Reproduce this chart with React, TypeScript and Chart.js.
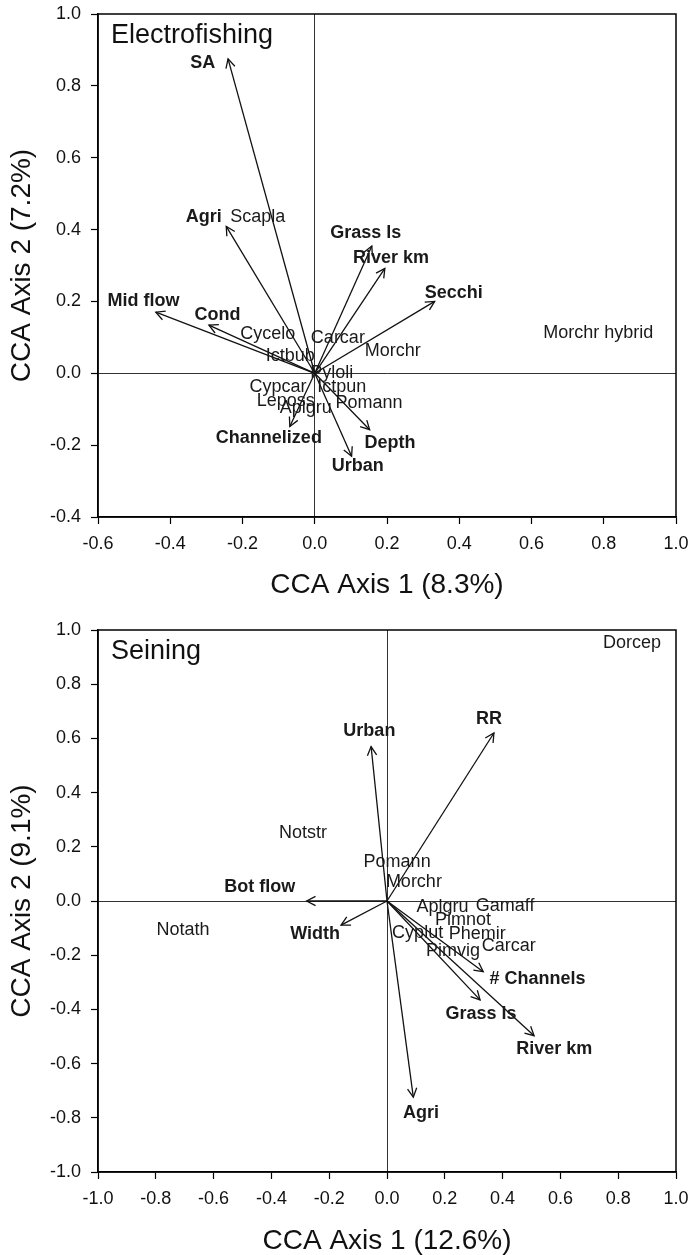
import React, { useEffect, useRef } from "react";
import { Chart, registerables } from "chart.js";

Chart.register(...registerables);

const FONT = '"Liberation Sans", Arial, Helvetica, sans-serif';

// ---------- Electrofishing panel ----------
const efEnvNames = ["SA", "Agri", "Grass ls", "River km", "Secchi", "Mid flow", "Cond", "Channelized", "Depth", "Urban"];
const efEnvX = [-0.24, -0.245, 0.158, 0.194, 0.332, -0.44, -0.293, -0.069, 0.152, 0.102];
const efEnvY = [0.875, 0.409, 0.354, 0.292, 0.2, 0.17, 0.134, -0.148, -0.157, -0.231];
const efEnvLabelX = [-0.31, -0.307, 0.141, 0.211, 0.385, -0.474, -0.269, -0.127, 0.208, 0.119];
const efEnvLabelY = [0.864, 0.435, 0.39, 0.32, 0.223, 0.201, 0.163, -0.181, -0.194, -0.259];
const efSpecies = ["Scapla", "Morchr hybrid", "Cycelo", "Carcar", "Morchr", "Ictbub", "Pyloli", "Cypcar", "Ictpun", "Leposs", "Pomann", "Aplgru"];
const efSpX = [-0.158, 0.785, -0.13, 0.064, 0.216, -0.068, 0.047, -0.102, 0.075, -0.08, 0.15, -0.025];
const efSpY = [0.435, 0.111, 0.109, 0.098, 0.061, 0.047, 0.001, -0.039, -0.039, -0.076, -0.083, -0.098];
const efXRange = [-0.6, 1.0];
const efYRange = [-0.4, 1.0];

// ---------- Seining panel ----------
const snEnvNames = ["RR", "Urban", "Bot flow", "Width", "# Channels", "Grass ls", "River km", "Agri"];
const snEnvX = [0.37, -0.055, -0.278, -0.159, 0.333, 0.322, 0.509, 0.091];
const snEnvY = [0.62, 0.57, 0.0, -0.089, -0.261, -0.365, -0.497, -0.724];
const snEnvLabelX = [0.353, -0.061, -0.44, -0.249, 0.521, 0.325, 0.579, 0.118];
const snEnvLabelY = [0.672, 0.627, 0.053, -0.122, -0.289, -0.417, -0.547, -0.782];
const snSpecies = ["Dorcep", "Notstr", "Pomann", "Morchr", "Notath", "Aplgru", "Gamaff", "Pimnot", "Cyplut", "Phemir", "Carcar", "Pimvig"];
const snSpX = [0.848, -0.291, 0.035, 0.093, -0.706, 0.192, 0.409, 0.263, 0.106, 0.312, 0.421, 0.228];
const snSpY = [0.953, 0.25, 0.143, 0.069, -0.107, -0.023, -0.018, -0.07, -0.119, -0.122, -0.166, -0.183];
const snXRange = [-1.0, 1.0];
const snYRange = [-1.0, 1.0];

type Panel = {
  title: string;
  xTitle: string;
  yTitle: string;
  xRange: number[];
  yRange: number[];
  envNames: string[];
  envX: number[];
  envY: number[];
  envLabelX: number[];
  envLabelY: number[];
  spNames: string[];
  spX: number[];
  spY: number[];
  height: number;
  padTop: number;
  xAxisHeight: number;
  xTitlePad: number;
};

const panels: Panel[] = [
  {
    title: "Electrofishing",
    xTitle: "CCA Axis 1 (8.3%)",
    yTitle: "CCA Axis 2 (7.2%)",
    xRange: efXRange,
    yRange: efYRange,
    envNames: efEnvNames,
    envX: efEnvX,
    envY: efEnvY,
    envLabelX: efEnvLabelX,
    envLabelY: efEnvLabelY,
    spNames: efSpecies,
    spX: efSpX,
    spY: efSpY,
    height: 615,
    padTop: 14,
    xAxisHeight: 98,
    xTitlePad: 16,
  },
  {
    title: "Seining",
    xTitle: "CCA Axis 1 (12.6%)",
    yTitle: "CCA Axis 2 (9.1%)",
    xRange: snXRange,
    yRange: snYRange,
    envNames: snEnvNames,
    envX: snEnvX,
    envY: snEnvY,
    envLabelX: snEnvLabelX,
    envLabelY: snEnvLabelY,
    spNames: snSpecies,
    spX: snSpX,
    spY: snSpY,
    height: 640,
    padTop: 15,
    xAxisHeight: 83,
    xTitlePad: 0,
  },
];

const fmt = (v: any) => {
  const n = Number(v);
  return (Math.abs(n) < 1e-9 ? 0 : n).toFixed(1);
};

function makePlugin(p: Panel) {
  return {
    id: "ccaDecor",
    afterDatasetsDraw(chart: any) {
      const { ctx, chartArea, scales } = chart;
      const xs = scales.x;
      const ys = scales.y;
      const ox = xs.getPixelForValue(0);
      const oy = ys.getPixelForValue(0);
      ctx.save();
      // arrowheads
      ctx.strokeStyle = "#111";
      ctx.lineWidth = 1.3;
      p.envX.forEach((vx, i) => {
        const tx = xs.getPixelForValue(vx);
        const ty = ys.getPixelForValue(p.envY[i]);
        const ang = Math.atan2(ty - oy, tx - ox);
        const L = 10;
        const A = 0.48;
        ctx.beginPath();
        ctx.moveTo(tx - L * Math.cos(ang - A), ty - L * Math.sin(ang - A));
        ctx.lineTo(tx, ty);
        ctx.lineTo(tx - L * Math.cos(ang + A), ty - L * Math.sin(ang + A));
        ctx.stroke();
      });
      // species labels
      ctx.fillStyle = "#1a1a1a";
      ctx.textAlign = "center";
      ctx.textBaseline = "middle";
      ctx.font = `18px ${FONT}`;
      const meta = chart.getDatasetMeta(0);
      meta.data.forEach((pt: any, i: number) => {
        ctx.fillText(p.spNames[i], pt.x, pt.y);
      });
      // environmental labels
      ctx.font = `bold 18px ${FONT}`;
      p.envNames.forEach((name, i) => {
        ctx.fillText(name, xs.getPixelForValue(p.envLabelX[i]), ys.getPixelForValue(p.envLabelY[i]));
      });
      // frame
      ctx.strokeStyle = "#000";
      ctx.lineWidth = 1.5;
      ctx.strokeRect(chartArea.left, chartArea.top, chartArea.right - chartArea.left, chartArea.bottom - chartArea.top);
      // panel title
      ctx.font = `27px ${FONT}`;
      ctx.textAlign = "left";
      ctx.fillStyle = "#111";
      ctx.fillText(p.title, chartArea.left + 13, chartArea.top + 22);
      ctx.restore();
    },
  };
}

const zeroPad = (s: any) => {
  s.paddingTop = 0;
  s.paddingBottom = 0;
  s.paddingLeft = 0;
  s.paddingRight = 0;
};

function CCAPanel({ p }: { p: Panel }) {
  const ref = useRef<HTMLCanvasElement | null>(null);
  useEffect(() => {
    if (!ref.current) return;
    const datasets: any[] = [
      {
        data: p.spX.map((v, i) => ({ x: v, y: p.spY[i] })),
        pointRadius: 0,
        showLine: false,
      },
    ];
    p.envX.forEach((v, i) => {
      datasets.push({
        data: [
          { x: 0, y: 0 },
          { x: v, y: p.envY[i] },
        ],
        showLine: true,
        borderColor: "#111",
        borderWidth: 1.3,
        pointRadius: 0,
        fill: false,
      });
    });
    const gridColor = (c: any) => (c.tick && Math.abs(c.tick.value) < 1e-9 ? "#333" : "rgba(0,0,0,0)");
    const chart = new Chart(ref.current, {
      type: "scatter",
      data: { datasets },
      options: {
        animation: false,
        responsive: false,
        maintainAspectRatio: false,
        layout: { padding: { top: p.padTop, right: 14, left: 0, bottom: 0 } },
        plugins: { legend: { display: false }, tooltip: { enabled: false } },
        font: { family: FONT },
        scales: {
          x: {
            type: "linear",
            min: p.xRange[0],
            max: p.xRange[1],
            afterFit: (s: any) => {
              s.height = p.xAxisHeight;
              zeroPad(s);
            },
            ticks: {
              stepSize: 0.2,
              callback: fmt,
              color: "#111",
              padding: 9,
              maxRotation: 0,
              font: { family: FONT, size: 18 },
            },
            grid: {
              color: gridColor,
              lineWidth: 1,
              tickColor: "#000",
              tickLength: 7,
              tickWidth: 1.2,
            },
            border: { display: true, color: "#000", width: 1.5 },
            title: {
              display: true,
              text: p.xTitle,
              color: "#111",
              font: { family: FONT, size: 28, lineHeight: 1 },
              padding: { top: 0, bottom: p.xTitlePad },
            },
          },
          y: {
            type: "linear",
            min: p.yRange[0],
            max: p.yRange[1],
            afterFit: (s: any) => {
              s.width = 98;
              zeroPad(s);
            },
            ticks: {
              stepSize: 0.2,
              callback: fmt,
              color: "#111",
              padding: 10,
              font: { family: FONT, size: 18 },
            },
            grid: {
              color: gridColor,
              lineWidth: 1,
              tickColor: "#000",
              tickLength: 7,
              tickWidth: 1.2,
            },
            border: { display: true, color: "#000", width: 1.5 },
            title: {
              display: true,
              text: p.yTitle,
              color: "#111",
              font: { family: FONT, size: 28, lineHeight: 1 },
              padding: { top: 8, bottom: 0 },
            },
          },
        },
      } as any,
      plugins: [makePlugin(p)],
    });
    return () => chart.destroy();
  }, [p]);
  return <canvas ref={ref} width={690} height={p.height} style={{ display: "block", width: 690, height: p.height }} />;
}

export default function App() {
  return (
    <div style={{ position: "absolute", left: 0, top: 0, width: 690, height: 1255, background: "#fff" }}>
      {panels.map((p, i) => (
        <CCAPanel key={i} p={p} />
      ))}
    </div>
  );
}
